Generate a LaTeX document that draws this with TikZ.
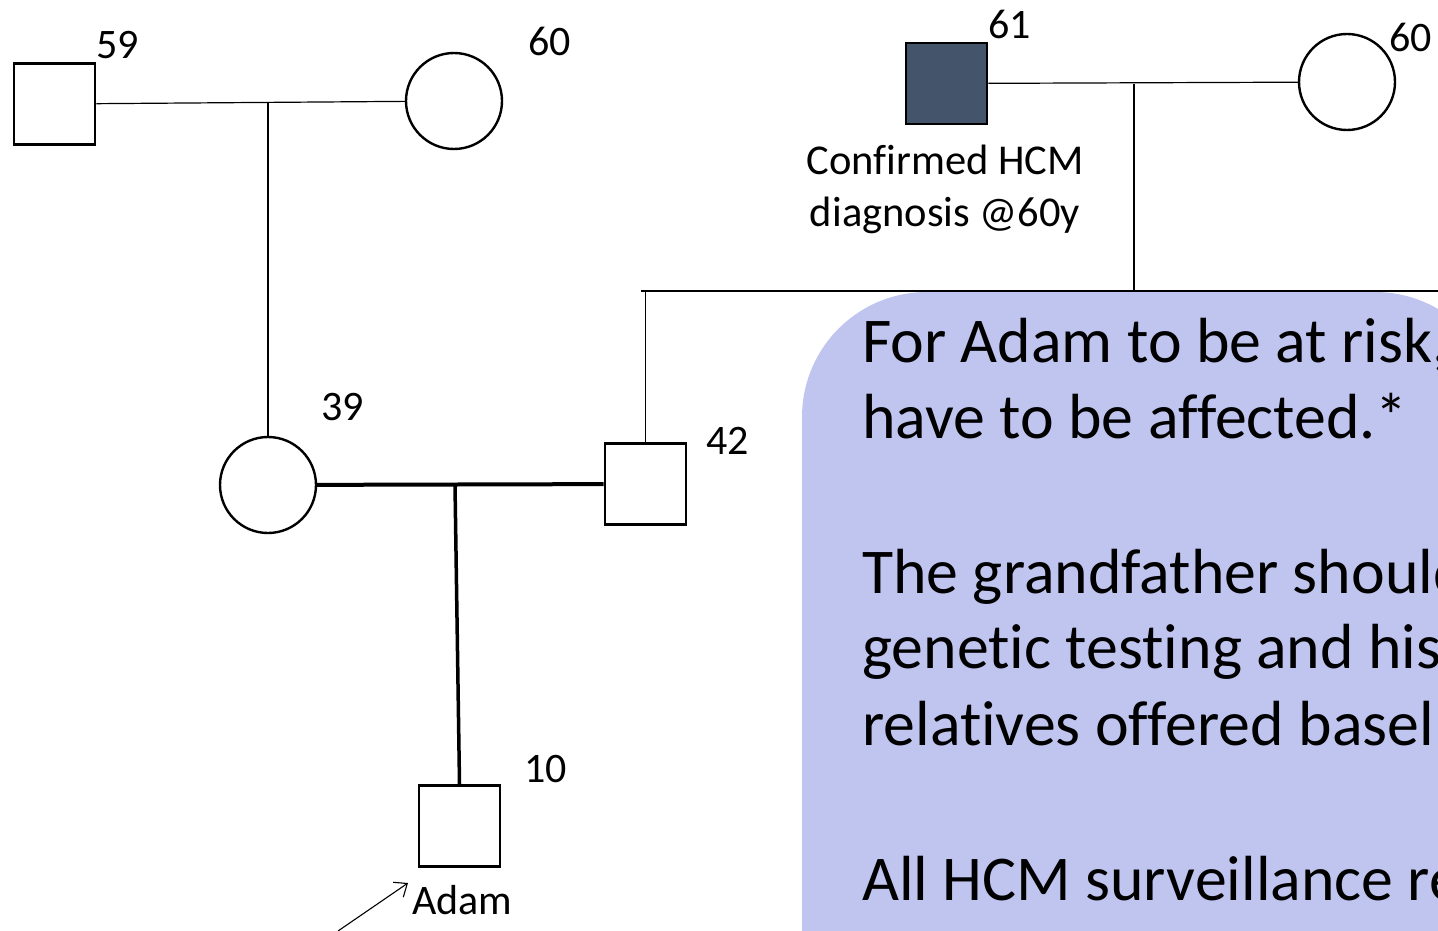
\documentclass[tikz,border=0pt]{standalone}
\usepackage{fontspec}
\setmainfont[Ligatures=NoCommon]{Carlito}
\usetikzlibrary{arrows.meta}
\definecolor{affected}{HTML}{44546A}
\definecolor{notefill}{HTML}{BFC5EF}
\begin{document}
\begin{tikzpicture}[x=1pt,y=-1pt,
  male/.style={draw=black,line width=2.8pt,minimum size=81pt,inner sep=0pt,fill=white},
  female/.style={draw=black,line width=2.4pt,circle,minimum size=96pt,inner sep=0pt,fill=white},
  thin/.style={line width=1.2pt},
  thick2/.style={line width=4pt},
  age/.style={anchor=base west,inner sep=0pt,font=\fontsize{42}{50}\selectfont},
  dxtext/.style={anchor=base,inner sep=0pt,font=\fontsize{42.5}{50}\selectfont},
  note/.style={anchor=base west,inner sep=0pt,font=\fontsize{63.8}{76}\selectfont}]
\useasboundingbox (0,0) rectangle (1438,931);
\begin{scope}
\clip (0,0) rectangle (1438,931);
\fill[notefill] (802,1000) {[rounded corners=125pt] -- (802,292) -- (1500,292)} -- (1500,1000) -- cycle;
\end{scope}
% persons
\node[male] (sq59) at (54.5,104) {};
\node[female] (c60l) at (454,101) {};
\node[female] (c39) at (268,485) {};
\node[male,fill=affected] (sq61) at (946.5,83.5) {};
\node[female] (c60r) at (1347,82) {};
\node[male] (sq42) at (645.5,484) {};
\node[male] (sq10) at (459.5,826) {};
% connectors
\coordinate (m1) at (268,102);
\coordinate (m2) at (1134,84);
\coordinate (s2) at (1134,291);
\coordinate (sl) at (641,291);
\coordinate (sr) at (1438,291);
\coordinate (s42) at (645.5,291);
\coordinate (m3) at (455,485);
\coordinate (a0) at (338,931);
\coordinate (a1) at (408,883);
\draw[thin] (sq59) -- (c60l);
\draw[thin] (m1) -- (c39.north);
\draw[thin] (sq61) -- (c60r);
\draw[thin] (m2) -- (s2);
\draw[thin] (sl) -- (sr);
\draw[thin] (s42) -- (sq42.north);
\draw[thick2] (c39) -- (sq42);
\draw[line width=3.5pt] (m3) -- (sq10.north);
\draw[line width=1.1pt,-{Straight Barb[length=11pt,width=18pt,line width=1.1pt]}] (a0) -- (a1);
% labels
\node[age] (l59) at (96,59) {59};
\node[age] (l60l) at (528,56) {60};
\node[age] (l39) at (321,420) {39};
\node[age] (l42) at (706,454) {42};
\node[age] (l61) at (988,39) {61};
\node[age] (l60r) at (1389,52) {60};
\node[age] (l10) at (524,782) {10};
\node[age] (ladam) at (412,914) {Adam};
\node[dxtext] (dx1) at (945,175) {Confirmed HCM};
\node[dxtext] (dx2) at (945,226) {diagnosis @60y};
% note text (cut by the right edge, as in the reference)
\node[note] (t1) at (862,362) {For Adam to be at risk,};
\node[note] (t2) at (862,438) {have to be affected.*};
\node[note] (t3) at (862,593) {The grandfather should};
\node[note] (t4) at (862,668) {genetic testing and his};
\node[note] (t5) at (862,745) {relatives offered basel};
\node[note] (t6) at (862,900) {All HCM surveillance re};
\end{tikzpicture}
\end{document}
